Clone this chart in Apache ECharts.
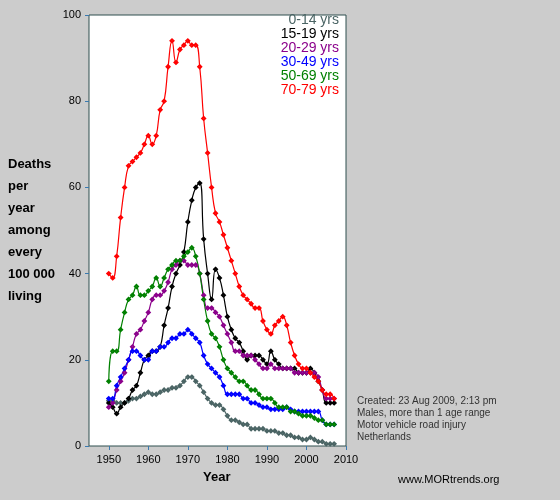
<!DOCTYPE html>
<html><head><meta charset="utf-8">
<script src="https://cdn.jsdelivr.net/npm/echarts@6/dist/echarts.min.js"></script>
<style>html,body{margin:0;padding:0;background:#cccccc}#ec{width:560px;height:500px}</style>
</head><body><div id="ec"></div>
<script>
// years 1950..2007
var years = [];
for (var y = 1950; y <= 2007; y++) years.push(y);

var names = ['0-14 yrs', '15-19 yrs', '20-29 yrs', '30-49 yrs', '50-69 yrs', '70-79 yrs'];
var colors = ['#4a6464', '#000000', '#8b008b', '#0000ff', '#008000', '#ff0000'];

var v0_14 = [10.5,10.5,10,10,10,10.5,11,11,11.5,12,12.5,12,12,12.5,13,13,13.5,13.5,14,15,16,16,15,14,12.5,11,10,9.5,9.5,8.5,7,6,6,5.5,5,5,4,4,4,4,3.5,3.5,3.5,3,3,2.5,2.5,2,2,1.5,1.5,2,1.5,1,1,0.5,0.5,0.5];
var v15_19 = [10,9,7.5,9,10,11,13,14,17,20,21,22,22,23,28,32,37,40,42,45,52,57,60,61,48,40,34,41,39,35,30,27,25,24,22,20,21,21,21,20,19,22,20,19,18,18,18,18,17,17,17,18,17,15,13,10,10,10];
var v20_29 = [9,10,13,15,17,20,23,26,27,29,31,34,35,35,36,38,41,42,43,43,42,42,42,40,35,32,32,31,30,28,26,24,22,22,21,21,21,20,19,18,18,19,18,18,18,18,18,17,17,17,17,17,17,16,13,11,11,11];
var v30_49 = [11,11,14,16,18,20,22,22,21,20,20,22,22,23,23,24,25,25,26,26,27,26,25,24,21,19,18,17,16,14,12,12,12,12,11,11,10,10,9.5,9,9,8.5,8.5,8.5,8.5,9,8.5,8,8,8,8,8,8,8,6,5,5,5];
var v50_69 = [15,22,22,27,31,34,35,37,35,35,36,37,39,37,39,41,42,43,43,44,45,46,44,40,34,29,26,25,23,20,18,17,16,15,15,14,13,13,12,11,11,11,10,9,9,9,8,8,7.5,7,7,7,6.5,6,6,5,5,5];
var v70_79 = [40,39,44,53,60,65,66,67,68,70,72,70,72,78,80,88,94,89,92,93,94,93,93,88,76,68,60,54,52,49,46,43,40,37,35,34,33,32,32,29,27,26,28,29,30,28,24,21,19,18,18,17,16,15,13,12,12,11];

var all = [v0_14, v15_19, v20_29, v30_49, v50_69, v70_79];

var xticks = [1950, 1960, 1970, 1980, 1990, 2000, 2010];
var ylabel = ['Deaths', 'per', 'year', 'among', 'every', '100 000', 'living'];
var notes = ['Created: 23 Aug 2009, 2:13 pm', 'Males, more than 1 age range', 'Motor vehicle road injury', 'Netherlands'];

var ec = echarts.init(document.getElementById('ec'));

var series = [];
all.forEach(function (arr, i) {
  series.push({
    name: names[i],
    type: 'line',
    smooth: 0.5,
    data: arr.map(function (v, k) { return [years[k], v]; }),
    symbol: 'emptyDiamond',
    symbolSize: 3,
    showSymbol: true,
    itemStyle: { color: colors[i], borderWidth: 0.8 },
    lineStyle: { color: colors[i], width: 1.2 },
    animation: false
  });
});

var graphic = [];
ylabel.forEach(function (t, i) {
  graphic.push({ type: 'text', left: 8, top: 158 + i * 22,
    style: { text: t, font: 'bold 13px Arial, "Liberation Sans"', fill: '#000' } });
});
names.forEach(function (t, i) {
  graphic.push({ type: 'text', right: 221, top: 13 + i * 14,
    style: { text: t, font: '14px Arial, "Liberation Sans"', fill: colors[i] } });
});
notes.forEach(function (t, i) {
  graphic.push({ type: 'text', left: 357, top: 396 + i * 12,
    style: { text: t, font: '10px Arial, "Liberation Sans"', fill: '#333' } });
});
graphic.push({ type: 'text', left: 203, top: 471,
  style: { text: 'Year', font: 'bold 13px Arial, "Liberation Sans"', fill: '#000' } });
graphic.push({ type: 'text', left: 398, top: 474,
  style: { text: 'www.MORtrends.org', font: '11px Arial, "Liberation Sans"', fill: '#000' } });

ec.setOption({
  backgroundColor: '#cccccc',
  grid: { left: 89, top: 15, width: 257, height: 431, show: true,
    backgroundColor: '#fff', borderColor: '#2f4f4f', borderWidth: 1 },
  xAxis: {
    type: 'value', min: 1945, max: 2010,
    axisLine: { show: false },
    splitLine: { show: false },
    axisTick: { show: true, length: 4, lineStyle: { color: '#3a7ab0' }, customValues: xticks },
    axisLabel: { customValues: xticks, color: '#000', fontSize: 11, margin: 8, fontFamily: 'Arial',
      formatter: function (v) { return String(v); } }
  },
  yAxis: {
    type: 'value', min: 0, max: 100, interval: 20,
    axisLine: { show: false },
    splitLine: { show: false },
    axisTick: { show: true, length: 4, lineStyle: { color: '#3a7ab0' } },
    axisLabel: { color: '#000', fontSize: 11, margin: 8, fontFamily: 'Arial' }
  },
  graphic: graphic,
  series: series
});
</script></body></html>
